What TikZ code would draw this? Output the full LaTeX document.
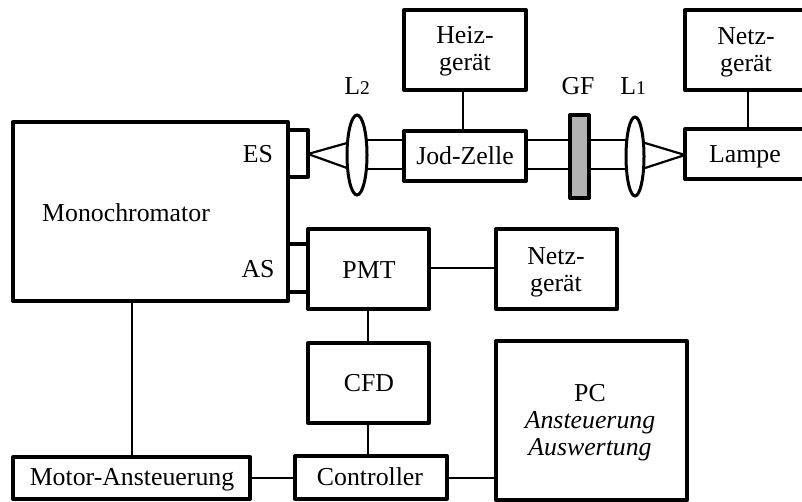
\documentclass[tikz,border=0pt]{standalone}
\usepackage{fontspec}
\usetikzlibrary{shapes.geometric}
\setmainfont{Liberation Serif}
\tikzset{
  x=1pt,y=-1pt,
  thickbox/.style={draw,line width=3.9pt,line join=round,fill=white,inner sep=0pt},
  wire/.style={draw,line width=2.2pt},
  lensshape/.style={draw,ellipse,line width=3pt,fill=white,inner sep=0pt},
  lbl/.style={inner sep=0pt,align=center,font=\fontsize{25.8}{27}\selectfont},
}
\newcommand{\bx}[5]{\path[thickbox] (#2,#3) rectangle (#4,#5); \coordinate (#1) at ({(#2+#4)/2},{(#3+#5)/2});}
\newcommand{\onum}[1]{{\fontsize{19.5}{15}\selectfont #1}}
\begin{document}
\begin{tikzpicture}
\useasboundingbox (0,0) rectangle (802,502);
\draw[wire] (132,301) -- (132,457);
\draw[wire] (250,478) -- (295,478);
\draw[wire] (447,478) -- (496,478);
\draw[wire] (368,309) -- (368,343);
\draw[wire] (368,423) -- (368,456);
\draw[wire] (429,268) -- (496,268);
\draw[wire] (463,91) -- (463,131);
\draw[wire] (748,90) -- (748,128);
\draw[wire] (357,140) -- (404,140);
\draw[wire] (357,169) -- (404,169);
\draw[wire] (526,140) -- (635,140);
\draw[wire] (526,169) -- (635,169);
\draw[wire] (308,154) -- (347,143);
\draw[wire] (308,154) -- (347,168);
\draw[wire] (685,155) -- (645,143);
\draw[wire] (685,155) -- (645,168);
\path[thickbox] (288,130) rectangle (308,177);
\path[thickbox] (288,244) rectangle (309,292);
\bx{mono}{13}{122}{288}{301}
\bx{heiz}{404}{10}{526}{90}
\bx{jod}{404}{131}{526}{181}
\bx{netza}{685}{10}{820}{90}
\bx{lampe}{685}{129}{820}{179}
\bx{pmt}{308}{229}{429}{309}
\bx{netzb}{496}{229}{617}{309}
\bx{cfd}{308}{343}{429}{423}
\bx{ctrl}{295}{456}{447}{499}
\bx{motor}{13}{457}{250}{499}
\bx{pc}{496}{341}{687}{500}
\path[thickbox,fill=black!30] (570,115) rectangle (589,198);
\node[lensshape,minimum width=20pt,minimum height=80pt] (ltwo) at (357,155) {};
\node[lensshape,minimum width=18pt,minimum height=79pt] (lone) at (635,156.5) {};
\node[lbl] at (465,51) {Heiz-\\gerät};
\node[lbl] at (465,156) {Jod-Zelle};
\node[lbl] at (745,157) {Lampe};
\node[lbl] at (746,52) {Netz-\\gerät};
\node[lbl] at (556,272) {Netz-\\gerät};
\node[lbl] at (369,270) {PMT};
\node[lbl] at (369,383) {CFD};
\node[lbl] at (370,477) {Controller};
\node[lbl] at (132,480) {Motor-Ansteuerung};
\node[lbl] at (590,423) {PC\\\textit{Ansteuerung}\\\textit{Auswertung}};
\node[lbl] at (126,213) {Monochromator};
\node[lbl] at (258,154) {ES};
\node[lbl] at (258,269) {AS};
\node[lbl] at (357,86) {L\onum{2}};
\node[lbl] at (578,86) {GF};
\node[lbl] at (633,86) {L\onum{1}};
\end{tikzpicture}
\end{document}
